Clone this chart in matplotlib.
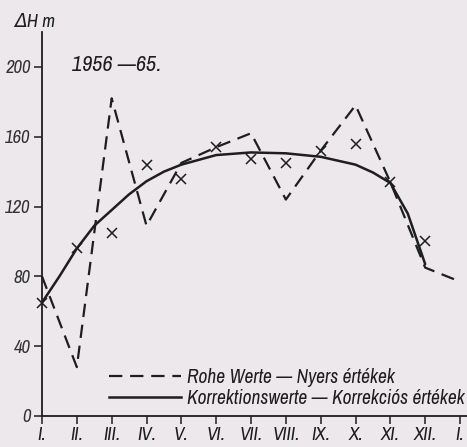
import matplotlib
matplotlib.use("Agg")
import matplotlib.pyplot as plt
from matplotlib.lines import Line2D

# ---- data ----
month_labels = ["I.", "II.", "III.", "IV.", "V.", "VI.", "VII.", "VIII.", "IX.", "X.", "XI.", "XII.", "I."]
raw_values = [80, 28, 182, 109, 145, 154, 162, 124, 152, 178, 134, 85, 77]          # dashed
marker_values = [65, 96, 105, 144, 136, 154, 147, 145, 152, 156, 134, 100]         # crosses
corr_pos = [0, 0.5, 1, 1.5, 2, 2.5, 3, 3.5, 4, 5, 6, 7, 8, 9, 9.5, 10, 10.5, 11]    # solid curve positions
corr_values = [65, 80, 96, 109, 118, 127, 134.5, 140, 144, 149.5, 151, 150.5, 148.5, 144, 139.5, 133.5, 116, 87]
y_ticks = [0, 40, 80, 120, 160, 200]
legend_labels = ["Rohe Werte — Nyers értékek", "Korrektionswerte — Korrekciós értékek"]
period_text = "1956 —65."
y_label = "ΔH m"

bg = "#ece8eb"
ink = "#1e1e1e"
fam = ["Archivo Narrow", "DejaVu Sans"]

fig = plt.figure(figsize=(4.67, 4.47), dpi=100, facecolor=bg)
W, H = 467, 447
ax = fig.add_axes([42 / W, (H - 416) / H, (467 - 42) / W, (416 - 32) / H])
ax.set_facecolor(bg)

x_raw = list(range(len(raw_values)))
x_mk = list(range(len(marker_values)))

ax.plot(x_raw, raw_values, color=ink, lw=1.6, dashes=(6, 3.5), clip_on=False)
ax.plot(corr_pos, corr_values, color=ink, lw=1.8, solid_capstyle="round", clip_on=False)
ax.plot(x_mk, marker_values, ls="none", marker="x", ms=7, mew=1.1, color=ink, clip_on=False)

ax.set_xlim(0, 12.2)
ax.set_ylim(0, 220)

for s in ["top", "right"]:
    ax.spines[s].set_visible(False)
for s in ["left", "bottom"]:
    ax.spines[s].set_color(ink)
    ax.spines[s].set_linewidth(1.3)

tkw = dict(fontfamily=fam, fontstyle="italic", fontsize=13.5)
ax.set_xticks(range(len(month_labels)))
ax.set_xticklabels(month_labels, color=ink, **tkw)
ax.set_yticks(y_ticks)
ax.set_yticklabels([str(v) for v in y_ticks], color="#333333", **tkw)
ax.tick_params(axis="both", direction="out", length=6, width=1.1, color=ink, pad=2)

ax.text(-0.065, 1.005, y_label, transform=ax.transAxes, ha="left", va="bottom", color=ink, **tkw)
ax.text(0.07, 0.915, period_text, transform=ax.transAxes, ha="left", va="center", color=ink,
        fontfamily=fam, fontstyle="italic", fontsize=16)

handles = [Line2D([], [], color=ink, lw=1.6, dashes=(6, 3.5)),
           Line2D([], [], color=ink, lw=1.8)]
leg = ax.legend(handles, legend_labels, loc="center left", bbox_to_anchor=(0.158, 0.073),
                frameon=False, prop={"family": fam, "style": "italic", "size": 14},
                handlelength=3.7, handletextpad=0.3, labelspacing=0.12,
                borderpad=0, borderaxespad=0)
for t in leg.get_texts():
    t.set_color(ink)

fig.savefig("out.png", dpi=100, facecolor=bg)
